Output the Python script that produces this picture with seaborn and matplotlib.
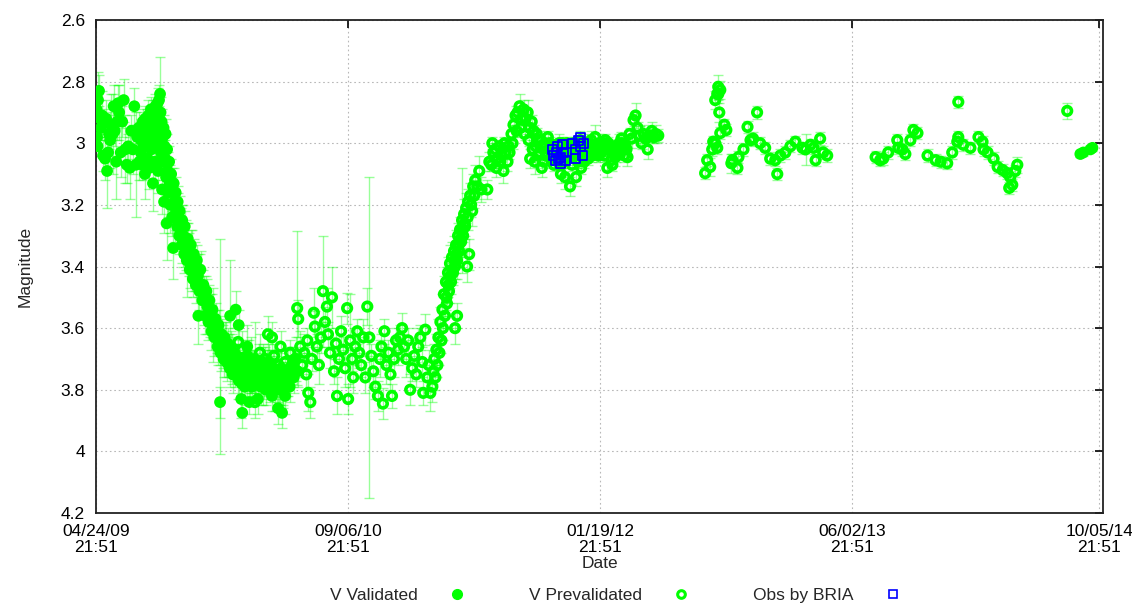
import numpy as np
import pandas as pd
import matplotlib
matplotlib.use("Agg")
import matplotlib.pyplot as plt
import matplotlib.dates as mdates
from matplotlib.lines import Line2D
import seaborn as sns

# Datos: (dias desde 04/24/09 21:51, magnitud, error)
START = pd.Timestamp("2009-04-24 21:51")

val_early = [
    (1, 2.89, 0.05), (2, 2.98, 0.03), (3, 3.01, 0.03), (4, 2.86, 0.09), (6, 2.83, 0.05),
    (8, 2.92, 0.06), (10, 2.95, 0.04), (12, 2.91, 0.08), (14, 3.04, 0.05), (16, 2.93, 0.04),
    (18, 3.05, 0.07), (20, 2.92, 0.06), (22, 3.09, 0.12), (24, 3.03, 0.05), (26, 2.97, 0.05),
    (28, 2.99, 0.09), (30, 2.94, 0.10), (33, 2.97, 0.13), (35, 2.88, 0.07), (37, 2.96, 0.05),
    (40, 3.06, 0.12), (42, 2.93, 0.06), (44, 2.87, 0.06), (46, 2.90, 0.09), (49, 3.03, 0.08),
    (52, 2.93, 0.05), (55, 2.86, 0.07), (58, 3.02, 0.11), (61, 3.07, 0.06), (64, 3.01, 0.04),
    (67, 3.08, 0.10), (70, 2.96, 0.05), (73, 3.02, 0.08), (76, 2.88, 0.06), (79, 3.07, 0.17),
    (82, 2.98, 0.04), (85, 2.95, 0.05),
]

val_peak = [
    (86, 3.06, 0.06), (88, 2.97, 0.04), (89, 3.03, 0.05), (90, 2.99, 0.07), (92, 3.07, 0.05),
    (93, 2.93, 0.04), (94, 3.01, 0.06), (96, 2.96, 0.05), (97, 3.10, 0.08), (98, 2.92, 0.04),
    (100, 3.00, 0.05), (101, 2.95, 0.06), (102, 3.05, 0.04), (104, 2.91, 0.05), (105, 2.99, 0.04),
    (106, 3.08, 0.07), (108, 2.93, 0.05), (109, 2.89, 0.04), (110, 3.02, 0.06), (112, 2.96, 0.05),
    (113, 3.13, 0.09), (114, 2.90, 0.04), (116, 2.98, 0.05), (117, 3.06, 0.06), (118, 2.88, 0.04),
    (120, 2.94, 0.05), (121, 3.00, 0.04), (122, 2.87, 0.05), (123, 3.09, 0.07), (124, 2.92, 0.04),
    (125, 2.86, 0.05), (126, 2.97, 0.04), (127, 2.84, 0.12), (128, 2.90, 0.05), (129, 3.03, 0.06),
    (130, 2.93, 0.04), (131, 3.15, 0.08), (132, 2.98, 0.05), (133, 3.06, 0.06), (134, 2.95, 0.04),
    (135, 3.19, 0.10), (136, 3.01, 0.05),
]

val_decline = [
    (137, 3.05, 0.06), (138, 2.97, 0.05), (139, 3.11, 0.07), (140, 3.26, 0.12), (141, 3.02, 0.05),
    (142, 3.09, 0.06), (143, 3.16, 0.08), (145, 3.06, 0.05), (146, 3.13, 0.06), (147, 3.20, 0.09),
    (149, 3.10, 0.05), (150, 3.15, 0.07), (151, 3.24, 0.06), (153, 3.34, 0.10), (154, 3.13, 0.05),
    (155, 3.19, 0.06), (157, 3.24, 0.08), (158, 3.16, 0.05), (159, 3.22, 0.06), (161, 3.27, 0.07),
    (162, 3.19, 0.05), (163, 3.25, 0.09), (165, 3.30, 0.06), (166, 3.22, 0.05), (168, 3.28, 0.07),
    (170, 3.33, 0.06), (171, 3.25, 0.05), (173, 3.30, 0.10), (175, 3.36, 0.06), (176, 3.27, 0.05),
    (178, 3.33, 0.08), (180, 3.38, 0.12), (182, 3.31, 0.05), (184, 3.36, 0.07), (186, 3.41, 0.06),
    (188, 3.33, 0.05), (190, 3.38, 0.10), (192, 3.44, 0.06), (194, 3.36, 0.05), (196, 3.40, 0.08),
    (198, 3.46, 0.06), (200, 3.38, 0.05), (202, 3.43, 0.07), (203, 3.56, 0.09), (205, 3.48, 0.06),
    (207, 3.41, 0.05), (209, 3.46, 0.11), (211, 3.51, 0.06), (213, 3.46, 0.05), (215, 3.51, 0.08),
    (217, 3.56, 0.06), (219, 3.48, 0.05), (221, 3.53, 0.09), (223, 3.58, 0.06), (225, 3.51, 0.05),
    (227, 3.56, 0.07), (229, 3.61, 0.06), (231, 3.54, 0.05), (233, 3.59, 0.12), (235, 3.63, 0.06),
    (237, 3.57, 0.05), (239, 3.61, 0.07), (241, 3.66, 0.06), (243, 3.59, 0.05), (245, 3.64, 0.08),
    (246, 3.66, 0.35), (247, 3.68, 0.06), (249, 3.62, 0.05), (251, 3.66, 0.07), (253, 3.70, 0.06),
    (255, 3.63, 0.05), (257, 3.67, 0.09), (259, 3.71, 0.06), (261, 3.65, 0.05), (263, 3.69, 0.07),
    (265, 3.73, 0.06), (267, 3.66, 0.05), (269, 3.70, 0.08), (271, 3.75, 0.06), (273, 3.68, 0.05),
    (275, 3.72, 0.07), (277, 3.54, 0.06), (279, 3.70, 0.05), (281, 3.74, 0.09), (283, 3.77, 0.06),
    (285, 3.71, 0.05), (287, 3.75, 0.07), (289, 3.78, 0.06), (291, 3.72, 0.05), (293, 3.76, 0.08),
    (295, 3.79, 0.06), (297, 3.73, 0.05), (299, 3.77, 0.07),
]

val_bottom = [
    (246, 3.84, 0.05), (266, 3.56, 0.18), (283, 3.59, 0.05), (288, 3.83, 0.06), (290, 3.875, 0.05),
    (300, 3.66, 0.07), (301, 3.74, 0.05), (303, 3.70, 0.06), (304, 3.84, 0.04), (305, 3.77, 0.05),
    (307, 3.72, 0.09), (309, 3.79, 0.05), (311, 3.73, 0.06), (313, 3.76, 0.05), (315, 3.70, 0.12),
    (317, 3.78, 0.05), (319, 3.74, 0.06), (321, 3.83, 0.05), (323, 3.72, 0.07), (325, 3.76, 0.05),
    (327, 3.79, 0.06), (329, 3.71, 0.05), (331, 3.75, 0.10), (333, 3.78, 0.05), (335, 3.73, 0.06),
    (337, 3.80, 0.05), (339, 3.74, 0.07), (341, 3.77, 0.05), (343, 3.71, 0.06), (345, 3.79, 0.05),
    (347, 3.75, 0.08), (349, 3.82, 0.05), (351, 3.73, 0.06), (353, 3.77, 0.05), (355, 3.80, 0.07),
    (357, 3.74, 0.05), (359, 3.78, 0.06), (361, 3.86, 0.05), (363, 3.76, 0.09), (365, 3.80, 0.05),
    (367, 3.73, 0.06), (369, 3.875, 0.05), (371, 3.79, 0.07), (373, 3.76, 0.05), (375, 3.82, 0.06),
    (378, 3.77, 0.05), (381, 3.74, 0.08), (384, 3.79, 0.05), (388, 3.72, 0.06), (392, 3.76, 0.05),
    (396, 3.70, 0.07), (400, 3.74, 0.05),
]

val_late = [(1952, 3.035, 0.01), (1958, 3.03, 0.01), (1972, 3.02, 0.01), (1976, 3.015, 0.01)]

pre_bottom = [
    (282, 3.645, 0.05), (290, 3.67, 0.06), (295, 3.72, 0.04), (300, 3.69, 0.05), (305, 3.75, 0.06),
    (310, 3.71, 0.04), (315, 3.84, 0.05), (320, 3.73, 0.04), (325, 3.68, 0.06), (330, 3.76, 0.05),
    (335, 3.70, 0.04), (341, 3.62, 0.06), (345, 3.74, 0.05), (349, 3.63, 0.05), (353, 3.69, 0.04),
    (357, 3.77, 0.06), (362, 3.72, 0.04), (366, 3.66, 0.05), (370, 3.79, 0.06), (375, 3.71, 0.04),
    (380, 3.75, 0.05), (385, 3.68, 0.04), (390, 3.73, 0.06), (395, 3.70, 0.04), (399, 3.535, 0.25),
    (401, 3.57, 0.06), (405, 3.66, 0.05), (409, 3.72, 0.04), (413, 3.68, 0.06), (417, 3.75, 0.05),
    (419, 3.64, 0.04), (421, 3.81, 0.06), (425, 3.84, 0.05), (428, 3.70, 0.04), (432, 3.55, 0.08),
    (434, 3.595, 0.05), (438, 3.66, 0.04), (442, 3.72, 0.06), (446, 3.63, 0.05), (450, 3.48, 0.18),
    (454, 3.58, 0.05), (458, 3.53, 0.06), (460, 3.62, 0.04), (464, 3.68, 0.05), (468, 3.50, 0.10),
    (472, 3.74, 0.04), (476, 3.65, 0.05), (478, 3.82, 0.06), (482, 3.70, 0.04), (486, 3.61, 0.05),
    (490, 3.67, 0.04), (494, 3.73, 0.06), (498, 3.535, 0.05), (500, 3.83, 0.05), (504, 3.64, 0.15),
    (508, 3.70, 0.04), (510, 3.76, 0.05), (514, 3.66, 0.06), (518, 3.61, 0.04), (522, 3.68, 0.05),
    (526, 3.72, 0.04), (530, 3.63, 0.06), (534, 3.76, 0.05), (538, 3.53, 0.06), (542, 3.63, 0.52),
    (546, 3.69, 0.04), (550, 3.74, 0.05), (554, 3.79, 0.04), (559, 3.82, 0.05), (563, 3.70, 0.06),
    (566, 3.66, 0.04), (569, 3.845, 0.05), (572, 3.61, 0.04), (576, 3.72, 0.06), (580, 3.68, 0.04),
    (584, 3.75, 0.05), (587, 3.82, 0.04), (591, 3.70, 0.06), (595, 3.64, 0.04), (599, 3.67, 0.05),
    (603, 3.63, 0.04), (607, 3.60, 0.05), (611, 3.66, 0.04), (615, 3.70, 0.06), (619, 3.64, 0.04),
    (623, 3.80, 0.05), (627, 3.73, 0.04), (631, 3.69, 0.05), (635, 3.75, 0.04), (639, 3.66, 0.06),
    (643, 3.63, 0.04), (647, 3.71, 0.05), (649, 3.81, 0.04), (653, 3.605, 0.05), (657, 3.76, 0.04),
    (660, 3.72, 0.05), (663, 3.81, 0.06),
]

pre_egress = [
    (667, 3.79, 0.05), (669, 3.74, 0.04), (671, 3.70, 0.05), (673, 3.76, 0.04), (675, 3.67, 0.05),
    (677, 3.72, 0.04), (679, 3.63, 0.06), (681, 3.68, 0.04), (683, 3.58, 0.05), (685, 3.64, 0.04),
    (687, 3.54, 0.05), (688, 3.60, 0.04), (690, 3.49, 0.06), (692, 3.56, 0.04), (694, 3.45, 0.05),
    (695, 3.50, 0.04), (696, 3.52, 0.04), (698, 3.42, 0.05), (699, 3.46, 0.04), (700, 3.48, 0.04),
    (702, 3.39, 0.06), (703, 3.43, 0.04), (704, 3.45, 0.04), (706, 3.37, 0.05), (707, 3.41, 0.04),
    (708, 3.42, 0.04), (710, 3.35, 0.05), (711, 3.38, 0.04), (712, 3.40, 0.04), (712, 3.60, 0.05),
    (714, 3.33, 0.05), (715, 3.36, 0.04), (716, 3.38, 0.06), (716, 3.56, 0.04), (718, 3.30, 0.04),
    (719, 3.33, 0.04), (720, 3.35, 0.05), (722, 3.28, 0.04), (723, 3.31, 0.04), (724, 3.32, 0.05),
    (726, 3.25, 0.17), (727, 3.28, 0.04), (728, 3.30, 0.04), (730, 3.23, 0.05), (731, 3.26, 0.04),
    (732, 3.27, 0.04), (734, 3.21, 0.05), (736, 3.40, 0.05), (737, 3.24, 0.04), (738, 3.19, 0.04),
    (740, 3.36, 0.05), (742, 3.17, 0.04), (744, 3.20, 0.04), (746, 3.22, 0.05), (748, 3.14, 0.04),
    (750, 3.17, 0.04), (752, 3.12, 0.05), (756, 3.14, 0.04), (760, 3.09, 0.05), (764, 3.15, 0.04),
]

pre_plateau = [
    (776, 3.15, 0.03), (780, 3.06, 0.03), (784, 3.07, 0.02), (786, 3.00, 0.02), (788, 3.03, 0.03),
    (792, 3.02, 0.02), (794, 3.08, 0.03), (796, 3.05, 0.03), (800, 3.01, 0.02), (802, 3.06, 0.02),
    (804, 3.04, 0.03), (808, 3.09, 0.04), (810, 3.00, 0.02), (812, 3.03, 0.02), (816, 3.06, 0.03),
    (818, 3.01, 0.02), (820, 3.03, 0.02), (824, 2.97, 0.03), (826, 3.00, 0.02), (828, 2.94, 0.02),
    (832, 2.91, 0.03), (834, 2.96, 0.02), (836, 2.90, 0.02), (840, 2.88, 0.04), (842, 2.95, 0.02),
    (844, 2.92, 0.02), (848, 2.89, 0.03), (850, 2.97, 0.02), (852, 2.92, 0.02), (856, 2.90, 0.04),
    (858, 2.99, 0.02), (860, 2.95, 0.02), (861, 3.05, 0.03), (864, 2.93, 0.02), (866, 3.02, 0.03),
    (868, 2.96, 0.02), (870, 3.06, 0.04), (872, 3.01, 0.02), (874, 2.97, 0.02), (876, 3.04, 0.02),
    (878, 2.99, 0.03), (880, 3.03, 0.02), (882, 2.99, 0.02), (884, 3.08, 0.03), (886, 3.01, 0.02),
    (888, 3.06, 0.02), (890, 3.00, 0.03), (892, 3.04, 0.02), (894, 3.03, 0.02), (896, 2.98, 0.02),
    (898, 3.02, 0.03), (900, 3.00, 0.02), (902, 3.05, 0.02), (904, 3.01, 0.02), (906, 3.04, 0.03),
    (908, 3.07, 0.02), (910, 3.01, 0.02), (912, 3.05, 0.02), (914, 3.03, 0.03), (916, 3.06, 0.02),
    (918, 3.00, 0.03), (920, 3.03, 0.02), (922, 3.10, 0.03), (924, 3.00, 0.02), (926, 3.03, 0.02),
    (928, 3.06, 0.02), (930, 3.11, 0.04), (932, 3.02, 0.02), (934, 3.00, 0.02), (936, 3.05, 0.03),
    (938, 3.02, 0.02), (940, 3.14, 0.03), (942, 3.01, 0.02), (944, 3.07, 0.02), (946, 3.04, 0.03),
    (948, 3.00, 0.02), (950, 3.02, 0.02), (952, 3.11, 0.03), (954, 3.03, 0.02), (956, 3.06, 0.02),
    (958, 3.04, 0.02), (960, 2.99, 0.03), (962, 3.08, 0.02), (964, 3.00, 0.02), (966, 3.02, 0.03),
    (968, 3.06, 0.02), (970, 3.045, 0.02), (972, 3.02, 0.02), (974, 3.00, 0.03), (976, 3.05, 0.02),
    (978, 3.03, 0.02), (980, 3.01, 0.02), (982, 2.99, 0.03), (984, 3.04, 0.02), (986, 3.02, 0.02),
    (988, 3.01, 0.02), (990, 2.98, 0.04), (992, 3.03, 0.02), (994, 3.01, 0.02), (996, 3.04, 0.02),
    (998, 3.00, 0.03), (1000, 3.02, 0.02), (1002, 3.03, 0.02), (1004, 3.00, 0.02), (1006, 3.02, 0.03),
    (1008, 3.04, 0.02), (1010, 2.99, 0.02), (1012, 3.02, 0.02), (1014, 3.08, 0.03), (1016, 3.00, 0.02),
    (1018, 3.02, 0.02), (1020, 3.01, 0.02), (1022, 3.055, 0.03), (1024, 3.07, 0.02), (1026, 3.03, 0.02),
    (1028, 3.02, 0.02), (1030, 3.045, 0.03), (1032, 3.04, 0.02), (1034, 3.01, 0.02), (1036, 3.03, 0.02),
    (1038, 3.00, 0.03), (1040, 3.02, 0.02), (1042, 2.985, 0.02), (1044, 3.00, 0.02), (1046, 3.02, 0.03),
    (1048, 3.04, 0.02), (1050, 3.01, 0.02), (1052, 3.02, 0.02), (1054, 3.045, 0.03), (1058, 2.97, 0.02),
    (1062, 2.985, 0.03), (1066, 2.925, 0.02), (1070, 2.91, 0.04), (1074, 2.95, 0.02), (1078, 2.975, 0.03),
    (1082, 3.00, 0.02), (1086, 2.97, 0.03), (1090, 2.985, 0.02), (1094, 3.02, 0.03), (1098, 2.975, 0.02),
    (1102, 2.96, 0.03), (1106, 2.98, 0.02), (1110, 2.97, 0.03), (1115, 2.975, 0.02),
]

pre_mid = [
    (1208, 3.097, 0.02), (1212, 3.055, 0.02), (1218, 3.077, 0.03), (1222, 3.02, 0.02), (1224, 2.995, 0.02),
    (1228, 2.86, 0.03), (1232, 2.84, 0.03), (1234, 2.817, 0.04), (1238, 2.827, 0.03), (1234, 2.84, 0.02),
    (1236, 2.90, 0.03), (1246, 2.94, 0.02), (1238, 2.967, 0.02), (1250, 2.957, 0.02), (1228, 3.00, 0.02),
    (1232, 3.015, 0.02), (1262, 3.055, 0.02), (1260, 3.065, 0.03), (1272, 3.08, 0.02), (1274, 3.045, 0.02),
    (1284, 3.02, 0.02), (1292, 2.947, 0.02), (1298, 2.99, 0.02), (1311, 2.90, 0.02), (1303, 2.985, 0.02),
    (1317, 3.00, 0.02), (1327, 3.015, 0.02), (1337, 3.05, 0.02), (1347, 3.055, 0.02), (1351, 3.10, 0.02),
    (1357, 3.04, 0.02), (1367, 3.03, 0.02), (1377, 3.01, 0.02), (1387, 2.995, 0.02), (1401, 3.015, 0.02),
    (1407, 3.02, 0.05), (1417, 3.005, 0.02), (1423, 3.015, 0.02), (1427, 3.055, 0.02), (1436, 2.985, 0.02),
    (1442, 3.03, 0.02), (1450, 3.04, 0.02),
]

pre_late = [
    (1546, 3.045, 0.02), (1555, 3.055, 0.02), (1561, 3.05, 0.02), (1571, 3.03, 0.02), (1589, 2.99, 0.02),
    (1591, 3.015, 0.02), (1599, 3.02, 0.02), (1605, 3.035, 0.02), (1615, 2.99, 0.02), (1621, 2.957, 0.02),
    (1629, 2.967, 0.02), (1649, 3.04, 0.02), (1665, 3.055, 0.02), (1675, 3.06, 0.02), (1688, 3.065, 0.02),
    (1698, 3.03, 0.02), (1708, 2.995, 0.02), (1710, 2.866, 0.02), (1710, 2.98, 0.02), (1720, 3.005, 0.02),
    (1734, 3.015, 0.02), (1750, 2.98, 0.02), (1758, 2.995, 0.02), (1760, 3.02, 0.02), (1768, 3.03, 0.02),
    (1780, 3.05, 0.02), (1788, 3.077, 0.02), (1798, 3.087, 0.02), (1807, 3.097, 0.02), (1813, 3.11, 0.02),
    (1811, 3.145, 0.02), (1817, 3.135, 0.02), (1823, 3.09, 0.02), (1827, 3.07, 0.025),
    (1926, 2.895, 0.025),
]

bria = [
    (905, 3.02), (907, 3.04), (911, 3.055), (913, 3.03), (915, 3.01), (918, 3.05), (921, 3.045),
    (921, 3.065), (925, 3.005), (927, 3.03), (931, 3.055), (944, 3.00), (950, 3.02), (950, 3.05),
    (956, 2.99), (960, 3.01), (960, 2.98), (964, 3.04), (966, 3.00),
]

tick_days = [0, 500, 1000, 1500, 1990]
y_ticks = [2.6, 2.8, 3.0, 3.2, 3.4, 3.6, 3.8, 4.0, 4.2]
y_labels = ["2.6", "2.8", "3", "3.2", "3.4", "3.6", "3.8", "4", "4.2"]
labels = ["V Validated", "V Prevalidated", "Obs by BRIA"]


def to_frame(segments, cols=("day", "mag", "err")):
    rows = [r for seg in segments for r in seg]
    df = pd.DataFrame(rows, columns=list(cols))
    df["date"] = START + pd.to_timedelta(df["day"], unit="D")
    return df


val = to_frame([val_early, val_peak, val_decline, val_bottom, val_late])
pre = to_frame([pre_bottom, pre_egress, pre_plateau, pre_mid, pre_late])
obs = to_frame([bria], cols=("day", "mag"))

sns.set_theme(style="white")
plt.rcParams["font.family"] = ["Liberation Sans", "DejaVu Sans"]

GREEN = "#00ff00"
BLUE = "#0000ff"

fig, ax = plt.subplots(figsize=(11.32, 6.05), dpi=100)
fig.subplots_adjust(left=0.0848, right=0.9744, top=0.967, bottom=0.152)

# barras de error
for df in (val, pre):
    ax.errorbar(df["date"], df["mag"], yerr=df["err"], fmt="none", ecolor=GREEN,
                alpha=0.4, elinewidth=1.0, capsize=3.5, capthick=1.0, zorder=2)

sns.scatterplot(data=val, x="date", y="mag", color=GREEN, s=72, edgecolor="none",
                ax=ax, legend=False, zorder=3)
sns.scatterplot(data=pre, x="date", y="mag", facecolor="none", edgecolor=GREEN,
                linewidth=2.6, s=38, ax=ax, legend=False, zorder=4)
sns.scatterplot(data=obs, x="date", y="mag", marker="s", facecolor="none", edgecolor=BLUE,
                linewidth=1.3, s=42, ax=ax, legend=False, zorder=5)

ax.set_xlim(START, START + pd.Timedelta(days=1997))
ax.set_ylim(4.2, 2.6)
ax.set_xticks([START + pd.Timedelta(days=d) for d in tick_days])
ax.xaxis.set_major_formatter(mdates.DateFormatter("%m/%d/%y\n%H:%M"))
ax.set_yticks(y_ticks)
ax.set_yticklabels(y_labels)

ax.grid(True, color="#b8b8b8", linestyle=(0, (1.5, 2.5)), linewidth=0.8)
ax.tick_params(which="both", direction="in", top=True, right=True, length=6, width=1.2,
               labelsize=12.5, colors="black", pad=8)
for s in ax.spines.values():
    s.set_color("#222222")
    s.set_linewidth(1.3)
for lab in ax.get_xticklabels():
    lab.set_linespacing(1.05)

ax.set_xlabel("Date", fontsize=12.5)
ax.xaxis.set_label_coords(0.5, -0.087)
ax.set_ylabel("Magnitude", fontsize=12.5)
ax.yaxis.set_label_coords(-0.063, 0.5)

handles = [
    Line2D([], [], ls="none", marker="o", ms=7, mfc=GREEN, mec=GREEN),
    Line2D([], [], ls="none", marker="o", ms=5.5, mfc="none", mec=GREEN, mew=2.2),
    Line2D([], [], ls="none", marker="s", ms=6, mfc="none", mec=BLUE, mew=1.2),
]
fig.legend(handles, labels, loc="center", bbox_to_anchor=(0.546, 0.016), ncol=3,
           frameon=False, markerfirst=False, fontsize=12.5, handlelength=1.5,
           handletextpad=1.5, columnspacing=3.4)

fig.savefig("out.png", dpi=100)
